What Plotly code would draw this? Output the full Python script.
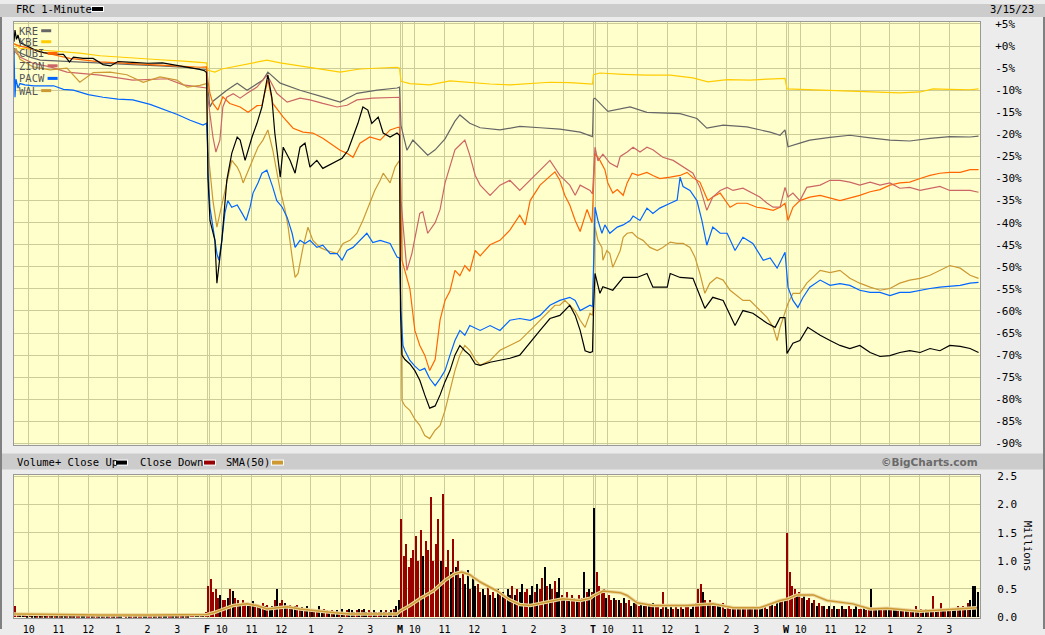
import plotly.graph_objects as go

W, H = 1045, 635

# ---------------- data ----------------
symbols = ["KRE", "KBE", "CUBI", "ZION", "PACW", "WAL"]
hour_labels = ["10", "11", "12", "1", "2", "3"]
day_labels = ["F", "M", "T", "W"]
pct_ticks = list(range(-90, 6, 5))
vol_ticks = [0.0, 0.5, 1.0, 1.5, 2.0, 2.5]

# trading minutes since Thu 9:30 open (390 per session) and % change
frc_t = [0, 2, 5, 8, 12, 22, 32, 45, 60, 80, 100, 112, 120, 140, 160, 180, 195, 210, 240, 270, 300, 320, 340, 360, 375, 385, 389,
         392, 396, 406, 410, 420, 430, 440, 451, 457, 467, 481, 491, 501, 513, 521, 527, 538, 544, 558, 568, 578, 588, 598, 612, 624, 645, 663, 675, 685, 695, 705, 715, 723, 736, 746, 760, 774, 779,
         781, 784, 790, 800, 810, 820, 830, 840, 851, 861, 871, 881, 891, 901, 911, 921, 932, 942, 962, 982, 1002, 1022, 1043, 1063, 1083, 1103, 1123, 1134, 1144, 1154, 1164, 1169,
         1171, 1174, 1184, 1190, 1210, 1231, 1259, 1279, 1291, 1320, 1326, 1346, 1372, 1382, 1396, 1412, 1433, 1457, 1473, 1493, 1522, 1538, 1548, 1558,
         1562, 1574, 1588, 1604, 1608, 1629, 1649, 1669, 1689, 1709, 1730, 1750, 1770, 1790, 1810, 1831, 1851, 1871, 1891, 1912, 1932, 1949]
frc_v = [1.0, 3.6, 1.5, 2.5, 0.8, 0.3, -0.3, -1.0, -1.5, -1.8, -1.9, -3.6, -2.5, -2.8, -2.8, -4.2, -4.5, -3.5, -3.7, -3.9, -3.8, -4.2, -4.5, -5.0, -5.3, -5.6, -6.0,
         -30, -39.5, -44, -53.7, -44, -30.4, -24.3, -20.6, -21.3, -25.9, -20.6, -17.5, -13.8, -6.5, -11.6, -19.7, -29.7, -22.9, -25.9, -28.8, -22.9, -22, -27.4, -25.9, -27.7, -26.5, -25.4, -23.6, -20.6, -17.5, -13.8, -14.5, -17.5, -16.1, -19.7, -20.6, -19.7, -20.2,
         -60, -70, -71, -72, -73.5, -75.7, -79, -82, -81.5, -79, -76, -73.5, -70, -67.8, -69, -70, -72, -72.3, -71.6, -71.2, -70.7, -70, -67, -64.4, -61.7, -61, -58.7, -61, -64.4, -69, -69.4, -69.2,
         -60, -51.5, -56, -54.5, -55.3, -52.4, -52.4, -51.5, -54.6, -54.6, -51.5, -52.4, -52.6, -55.3, -59.4, -56.9, -57.6, -63.3, -59.9, -60.5, -62.8, -63.7, -61.5, -61.5,
         -69.6, -67.3, -66.7, -63.7, -64, -65.5, -66.7, -67.8, -68.5, -67.8, -69.4, -70.3, -70.1, -69.4, -69, -69.4, -68.5, -69, -67.8, -68, -68.5, -69.4]

kre_t = [0, 4, 12, 32, 53, 93, 133, 174, 240, 295, 342, 376, 389,
         392, 396, 402, 430, 451, 471, 503, 513, 538, 578, 624, 659, 693, 734, 774, 779,
         782, 794, 806, 836, 851, 871, 891, 901, 921, 942, 982, 1022, 1063, 1103, 1144, 1164, 1169,
         1171, 1174, 1200, 1245, 1279, 1346, 1380, 1400, 1433, 1481, 1528, 1548, 1558,
         1564, 1588, 1608, 1649, 1689, 1730, 1770, 1810, 1851, 1891, 1932, 1949]
kre_v = [-0.5, -1.0, -1.5, -2.5, -3.2, -3.4, -3.5, -3.8, -4.2, -4.5, -4.8, -5.2, -5.3,
         -10, -13.8, -12.5, -10, -8.4, -10, -7.7, -5.9, -8.4, -10, -11.5, -12.7, -10.7, -10, -9.5, -9.3,
         -18, -23.6, -21.3, -24.7, -23.5, -21, -17, -15.6, -17.5, -18.5, -19, -18.2, -18.5, -18.8, -19.5, -20.3, -20.5,
         -12, -11.8, -14.8, -13.8, -15, -15.3, -16.4, -18.6, -17.9, -18.3, -19.5, -20.2, -19,
         -22.8, -22, -21.3, -20.7, -20.2, -20.8, -21.3, -21.5, -20.9, -20.5, -20.6, -20.4]

kbe_t = [0, 12, 53, 93, 133, 174, 234, 295, 342, 376, 389,
         392, 406, 420, 451, 491, 511, 538, 578, 618, 659, 699, 740, 774, 779,
         782, 800, 840, 881, 921, 962, 1002, 1043, 1083, 1123, 1164, 1169,
         1171, 1184, 1231, 1279, 1326, 1372, 1402, 1441, 1487, 1528, 1558,
         1562, 1588, 1629, 1669, 1709, 1750, 1790, 1831, 1857, 1891, 1932, 1949]
kbe_v = [0.5, -0.5, -0.9, -1.3, -1.6, -2.2, -2.7, -3.1, -3.4, -3.6, -3.8,
         -5.5, -5.9, -5.2, -4.5, -3.6, -3.2, -3.8, -4.5, -5.2, -5.9, -5.2, -4.9, -4.8, -5.0,
         -8.0, -8.5, -8.8, -7.9, -8.3, -8.6, -8.8, -8.5, -8.2, -8.3, -8.6, -8.6,
         -6.5, -6.1, -6.4, -6.6, -6.6, -7.2, -8.1, -7.6, -7.7, -7.4, -7.3,
         -9.7, -9.8, -10.1, -10.2, -10.4, -10.5, -10.6, -10.4, -9.7, -9.8, -9.9, -9.7]

cubi_t = [0, 12, 32, 50, 73, 113, 174, 234, 295, 342, 376, 389,
          392, 396, 402, 412, 422, 436, 457, 473, 491, 501, 513, 523, 544, 564, 584, 604, 624, 659, 673, 685, 699, 719, 740, 760, 776, 779,
          784, 800, 810, 820, 830, 840, 851, 861, 871, 881, 891, 901, 911, 921, 932, 942, 962, 982, 1002, 1022, 1033, 1043, 1063, 1073, 1083, 1093, 1103, 1113, 1123, 1134, 1144, 1158, 1168,
          1174, 1184, 1194, 1200, 1210, 1219, 1231, 1239, 1249, 1261, 1279, 1291, 1305, 1326, 1346, 1360, 1372, 1386, 1396, 1402, 1412, 1427, 1447, 1461, 1481, 1501, 1514, 1534, 1548, 1558,
          1564, 1574, 1588, 1608, 1629, 1669, 1709, 1730, 1750, 1770, 1790, 1810, 1831, 1851, 1871, 1891, 1912, 1932, 1949]
cubi_v = [0.5, 0.0, -0.5, -1.3, -1.8, -2.8, -3.6, -3.9, -4.3, -4.6, -4.8, -4.7,
          -8, -10.7, -13, -14.5, -11.5, -13, -13.8, -15, -13.5, -13.4, -7.7, -13, -16.1, -18.6, -19.5, -19.7, -20.9, -23.6, -24.3, -25.2, -22, -20.6, -21.3, -19, -18.4, -18.4,
          -48.5, -55, -64.4, -67.8, -70, -73.5, -71, -62, -57.6, -55.5, -50.8, -52, -49.7, -51, -46.3, -47.5, -45, -44, -41.7, -38.3, -40.5, -35, -31.5, -30.5, -29.3, -28.5, -30.4, -33.8, -36, -39.5, -42, -37, -40,
          -24.3, -25.9, -28, -31, -33.3, -32.5, -33.8, -31, -28.8, -29.3, -28.6, -29.3, -30, -29.7, -29.3, -28.6, -29.8, -30.8, -33.3, -35, -34.2, -33.3, -36.5, -35.6, -35.6, -36.5, -36.7, -37.2, -36.5, -35.6,
          -39.5, -36.5, -35, -34.2, -33.8, -35, -33.8, -33, -32.5, -31.5, -31, -30.8, -30, -29.3, -28.8, -28.6, -28.6, -28, -28]

zion_t = [0, 12, 38, 73, 107, 174, 240, 309, 342, 376, 389,
          392, 396, 402, 408, 416, 422, 430, 443, 457, 471, 491, 511, 517, 531, 552, 578, 598, 624, 653, 673, 693, 725, 760, 779,
          782, 794, 804, 820, 826, 836, 851, 861, 871, 881, 891, 901, 911, 921, 932, 942, 962, 982, 1002, 1022, 1043, 1063, 1083, 1103, 1123, 1134, 1144, 1164, 1169,
          1174, 1180, 1190, 1204, 1219, 1225, 1239, 1251, 1265, 1279, 1291, 1311, 1332, 1352, 1372, 1386, 1400, 1412, 1427, 1441, 1453, 1473, 1493, 1507, 1522, 1534, 1548, 1558,
          1564, 1574, 1588, 1602, 1629, 1649, 1669, 1689, 1709, 1730, 1750, 1770, 1790, 1810, 1831, 1851, 1871, 1891, 1912, 1932, 1949]
zion_v = [-1, -2.5, -3.9, -4.7, -5.9, -6.6, -7.7, -7.4, -8.8, -9.3, -9.5,
          -12, -15.2, -20.6, -24, -21.3, -13.8, -11.6, -10.8, -11.8, -10.7, -9.3, -6.6, -7.7, -10.7, -12.7, -11.8, -12.2, -13, -13.8, -13.4, -12.2, -11.8, -11.6, -11.6,
          -35, -50.8, -47, -37.9, -37.5, -42.4, -40, -37, -31, -27, -23.5, -22.4, -21.3, -24.7, -29.3, -31.5, -33.8, -31.5, -30.4, -32.7, -30.4, -28, -25.9, -29.3, -31.5, -33.8, -31.5, -32.7, -33.5,
          -22.9, -26, -24.5, -26.5, -27.4, -25, -24, -22.9, -24, -22.9, -23.5, -25.2, -25.9, -27.4, -28.8, -32, -37.2, -34.2, -32.7, -32, -32.7, -32.2, -33.3, -34.2, -35.6, -36.5, -36.5, -32,
          -34.2, -33.3, -35, -32, -31.5, -30.4, -30.4, -30.8, -31.5, -30.8, -31.5, -31, -32.2, -32, -32.7, -32.2, -31.8, -32.7, -32.7, -32.7, -33.1]

pacw_t = [0, 2, 4, 8, 12, 22, 40, 60, 80, 100, 120, 150, 180, 210, 240, 275, 300, 330, 356, 382, 389,
          391, 392, 396, 402, 410, 414, 420, 426, 432, 440, 451, 461, 469, 477, 483, 493, 501, 511, 517, 523, 531, 542, 552, 562, 568, 578, 588, 598, 612, 624, 639, 653, 663, 673, 685, 699, 713, 725, 740, 760, 774, 779,
          782, 786, 790, 800, 810, 820, 830, 840, 851, 861, 871, 881, 891, 901, 911, 921, 942, 962, 982, 1002, 1022, 1043, 1063, 1083, 1103, 1123, 1134, 1144, 1164, 1169,
          1174, 1180, 1188, 1194, 1204, 1219, 1231, 1245, 1251, 1265, 1279, 1291, 1305, 1326, 1340, 1346, 1352, 1366, 1380, 1390, 1400, 1412, 1427, 1441, 1457, 1473, 1493, 1514, 1528, 1542, 1552, 1558,
          1564, 1574, 1584, 1594, 1608, 1629, 1649, 1669, 1689, 1709, 1730, 1750, 1770, 1790, 1810, 1831, 1851, 1871, 1891, 1912, 1932, 1949]
pacw_v = [-1, -11.6, -7.5, -9.5, -8.5, -8.8, -9.0, -9.0, -9.0, -9.8, -10.0, -11.0, -11.6, -12.0, -12.2, -13.2, -14.2, -15.5, -16.8, -17.9, -17.5,
          -22, -28.8, -36.5, -41, -47, -48.5, -44, -37.9, -35, -36.5, -36, -37.9, -39.5, -36.5, -33.3, -31, -28.8, -28.1, -30, -32, -35, -36.5, -38.8, -42.4, -45.6, -44, -44.7, -44, -45.6, -45.1, -47, -47, -48.5, -46.3, -45.6, -44, -42.4, -44.5, -44, -44.7, -47.8, -48,
          -60, -67.8, -69, -71.2, -72.5, -73.5, -73, -75.3, -76.9, -75.3, -73.5, -70, -66.7, -64.4, -65.5, -63.3, -64.4, -63.3, -64.4, -62.1, -61.7, -62.1, -61, -58.7, -57.6, -56.9, -57.6, -59.9, -58.7, -59,
          -36.5, -39.5, -42.4, -40.5, -42.4, -41, -40.5, -39.5, -38.5, -39.5, -36.7, -37.9, -36.7, -35.6, -34.9, -29.7, -31.8, -32.7, -35, -39.5, -45.1, -41, -42.4, -42.4, -46.3, -43.3, -44.7, -48.5, -48, -50.3, -48, -46.7,
          -54.6, -57.6, -59.2, -57, -54.6, -53, -54.2, -53.8, -54.2, -55.3, -55.8, -55.8, -56.5, -55.8, -55.8, -55.3, -54.9, -54.6, -54.4, -54.2, -53.7, -53.5]

wal_t = [0, 4, 12, 38, 73, 107, 133, 160, 194, 228, 261, 295, 329, 350, 376, 389,
         392, 396, 402, 410, 416, 422, 430, 440, 451, 457, 463, 471, 483, 493, 503, 513, 523, 531, 538, 548, 554, 562, 568, 574, 584, 594, 604, 618, 632, 653, 665, 679, 693, 705, 719, 729, 740, 746, 760, 770, 779,
         784, 790, 800, 810, 820, 830, 840, 851, 861, 871, 881, 891, 901, 911, 921, 932, 942, 962, 982, 1002, 1022, 1043, 1063, 1073, 1093, 1103, 1113, 1123, 1134, 1144, 1154, 1164, 1169,
         1174, 1180, 1188, 1190, 1198, 1204, 1210, 1219, 1225, 1231, 1239, 1249, 1259, 1271, 1285, 1300, 1311, 1326, 1340, 1352, 1366, 1376, 1386, 1396, 1406, 1420, 1433, 1447, 1461, 1473, 1487, 1507, 1522, 1534, 1542, 1548, 1558,
         1564, 1574, 1588, 1602, 1618, 1629, 1649, 1669, 1689, 1709, 1730, 1750, 1770, 1790, 1810, 1831, 1851, 1871, 1891, 1912, 1932, 1949]
wal_v = [-2, -0.5, -3, -4.7, -5.4, -5.0, -8.2, -6, -5.9, -6.5, -8.2, -7, -7.7, -9.3, -8.9, -8.5,
         -23.6, -28.8, -35, -41, -38, -35, -30.4, -25.9, -27.4, -28.8, -31, -28.8, -25.9, -22.9, -21.3, -19, -23.6, -28.8, -32.7, -37.2, -41, -47.8, -52.4, -51.5, -45.6, -41, -44, -45.6, -46.3, -47, -44.7, -44, -42.4, -39.5, -35.6, -32.7, -30.4, -28.8, -31, -27.4, -25.9,
         -80.3, -81.5, -82.5, -84.5, -85.9, -88.2, -88.9, -87, -85.9, -82.5, -78, -73.5, -70, -67.8, -68.9, -71, -72.3, -71.2, -68.9, -67.8, -66.7, -64.4, -62.1, -61, -58.7, -58.7, -57.6, -58.7, -60, -62.1, -63.7, -60.5, -61,
         -41, -44, -45.6, -48.5, -46.3, -47, -50.1, -47.8, -46.3, -43.3, -42.4, -42.2, -43.3, -44, -45.6, -46.3, -45.6, -44.4, -44.7, -44.7, -45.6, -47.8, -51.5, -56, -53.7, -52.4, -53, -55.3, -56.5, -57.6, -57.6, -59.9, -61.5, -63.7, -66.7, -63.7, -60.5,
         -58.3, -56, -56, -53.7, -51.9, -50.8, -51.3, -50.8, -52.6, -53.7, -54.6, -55.3, -54.9, -53.7, -53, -52.6, -51.9, -50.8, -49.7, -50.3, -51.9, -52.6]

# FRC volume (millions), one value per 5-minute slot, 78 slots per session
vol_thu = [0.20, 0.06, 0.05, 0.04, 0.04, 0.03, 0.04, 0.03, 0.03, 0.03, 0.03, 0.02, 0.03,
           0.03, 0.02, 0.03, 0.02, 0.02, 0.03, 0.02, 0.02, 0.02, 0.03, 0.02, 0.02, 0.02,
           0.02, 0.03, 0.02, 0.02, 0.02, 0.02, 0.02, 0.02, 0.03, 0.02, 0.02, 0.02, 0.02,
           0.02, 0.02, 0.02, 0.02, 0.02, 0.04, 0.02, 0.02, 0.02, 0.02, 0.02, 0.02, 0.02,
           0.02, 0.02, 0.02, 0.02, 0.02, 0.02, 0.02, 0.02, 0.02, 0.02, 0.02, 0.02, 0.02,
           0.03, 0.02, 0.03, 0.03, 0.03, 0.03, 0.04, 0.04, 0.05, 0.06, 0.06, 0.08, 0.10]
vol_fri = [0.55, 0.68, 0.45, 0.5, 0.35, 0.4, 0.3, 0.3, 0.35, 0.5, 0.47, 0.35, 0.3,
           0.25, 0.3, 0.22, 0.2, 0.25, 0.28, 0.22, 0.2, 0.18, 0.25, 0.2, 0.22, 0.18,
           0.2, 0.3, 0.5, 0.25, 0.3, 0.25, 0.2, 0.22, 0.18, 0.2, 0.22, 0.15, 0.18,
           0.15, 0.2, 0.15, 0.13, 0.15, 0.12, 0.2, 0.12, 0.14, 0.12, 0.1, 0.12, 0.1,
           0.12, 0.1, 0.14, 0.1, 0.12, 0.15, 0.12, 0.1, 0.12, 0.15, 0.12, 0.15, 0.1,
           0.12, 0.1, 0.12, 0.1, 0.1, 0.12, 0.1, 0.12, 0.1, 0.12, 0.15, 0.2, 0.3]
vol_mon = [1.75, 1.1, 1.3, 0.9, 1.05, 1.2, 1.45, 1.0, 1.55, 1.1, 1.35, 1.2, 2.15,
           1.0, 1.3, 1.75, 1.0, 2.2, 0.9, 1.2, 0.8, 1.4, 0.9, 1.0, 0.7, 0.8,
           0.6, 0.85, 0.5, 0.7, 0.55, 0.6, 0.45, 0.5, 0.4, 0.55, 0.4, 0.45, 0.35,
           0.5, 0.4, 0.45, 0.35, 0.5, 0.4, 0.55, 0.4, 0.5, 0.45, 0.6, 0.45, 0.5,
           0.4, 0.55, 0.45, 0.6, 0.5, 0.7, 0.9, 0.55, 0.6, 0.5, 0.65, 0.45, 0.7,
           0.4, 0.35, 0.45, 0.35, 0.4, 0.35, 0.3, 0.4, 0.35, 0.8, 0.45, 0.5, 0.45]
vol_tue = [1.95, 0.8, 0.55, 0.45, 0.5, 0.35, 0.4, 0.3, 0.35, 0.3, 0.3, 0.25, 0.35,
           0.25, 0.3, 0.2, 0.25, 0.3, 0.2, 0.25, 0.2, 0.25, 0.2, 0.2, 0.25, 0.2,
           0.2, 0.15, 0.45, 0.2, 0.15, 0.2, 0.15, 0.2, 0.15, 0.2, 0.15, 0.2, 0.2,
           0.15, 0.2, 0.25, 0.5, 0.6, 0.45, 0.3, 0.25, 0.3, 0.2, 0.25, 0.2, 0.2,
           0.25, 0.15, 0.2, 0.15, 0.2, 0.15, 0.2, 0.2, 0.15, 0.2, 0.15, 0.2, 0.2,
           0.15, 0.2, 0.15, 0.2, 0.2, 0.15, 0.2, 0.25, 0.2, 0.25, 0.3, 0.3, 0.35]
vol_wed = [1.5, 0.8, 0.55, 0.5, 0.4, 0.45, 0.35, 0.4, 0.3, 0.35, 0.25, 0.3, 0.2,
           0.25, 0.2, 0.2, 0.15, 0.2, 0.15, 0.2, 0.15, 0.15, 0.2, 0.15, 0.15, 0.2,
           0.15, 0.15, 0.2, 0.15, 0.15, 0.2, 0.12, 0.15, 0.5, 0.15, 0.12, 0.15, 0.12,
           0.12, 0.15, 0.12, 0.15, 0.12, 0.12, 0.15, 0.12, 0.12, 0.15, 0.12, 0.12, 0.15,
           0.2, 0.12, 0.15, 0.12, 0.15, 0.12, 0.15, 0.38, 0.12, 0.15, 0.25, 0.15, 0.12,
           0.15, 0.12, 0.15, 0.15, 0.2, 0.15, 0.2, 0.15, 0.25, 0.3, 0.55, 0.55, 0.45]
# u = close up, d = close down
dir_thu = "dduudu" "duudud" "uddudu" "duudud" "udduud" "dudduu" "duddud" "uuddud" "dudduu" "ddudud" "uudduu" "ddudud" "duudud"
dir_fri = "dddddu" "ddudud" "duddud" "uddudu" "duudud" "dudduu" "ddudud" "udduud" "duduud" "udduud" "duduud" "dudduu" "duuduu"
dir_mon = "dddddd" "dddudd" "ddddud" "ddudud" "uduudu" "udduud" "uduudu" "duudud" "uudduu" "duddud" "udduud" "ududdu" "ddudud"
dir_tue = "uddddu" "ddudud" "udduud" "duudud" "uddudu" "duddud" "udduud" "ddudud" "uduudu" "ddudud" "uddudu" "duudud" "uduudu"
dir_wed = "ddddud" "duddud" "uddudu" "duudud" "udduud" "duddud" "uudduu" "duudud" "uddudu" "duudud" "uddudu" "duudud" "uduuuu"

sma_t = [0, 53, 174, 275, 376,
         390, 406, 426, 443, 471, 491, 511, 531, 552, 578, 612, 649, 679, 729, 774,
         780, 800, 820, 847, 871, 891, 905, 921, 942, 962, 976, 1002, 1022, 1043, 1073, 1109, 1144, 1164,
         1170, 1190, 1225, 1239, 1259, 1291, 1360, 1386, 1412, 1453, 1507, 1548,
         1564, 1582, 1615, 1643, 1695, 1730, 1764, 1831, 1897, 1946]
sma_v = [0.05, 0.04, 0.03, 0.03, 0.03,
         0.04, 0.08, 0.15, 0.2, 0.23, 0.2, 0.14, 0.16, 0.18, 0.14, 0.1, 0.07, 0.05, 0.05, 0.05,
         0.1, 0.2, 0.32, 0.46, 0.65, 0.77, 0.8, 0.75, 0.62, 0.52, 0.46, 0.3, 0.22, 0.2, 0.25, 0.32, 0.29, 0.33,
         0.37, 0.46, 0.43, 0.38, 0.25, 0.2, 0.2, 0.22, 0.23, 0.16, 0.16, 0.29,
         0.32, 0.39, 0.39, 0.29, 0.23, 0.14, 0.15, 0.1, 0.14, 0.16]

# ---------------- styling ----------------
MONO = "DejaVu Sans Mono"
GRID = "#cccc99"
PLOT_BG = "#ffffcc"
colors = {"KRE": "#666666", "KBE": "#ffcc00", "CUBI": "#ff6600", "ZION": "#cc6666",
          "PACW": "#0066ff", "WAL": "#cc9933", "FRC": "#000000"}

# layout positions are given in the reference picture's pixels and mapped onto the page
# (the captured page shows page pixel p at about 4 + 0.983 p down)


def page_x(x):
    return x


def page_y(y):
    return (y - 4.0) / 0.983


def px(x):
    return min(max(page_x(x) / W, 0.0), 1.0)


def py(y):
    return min(max(1 - page_y(y) / H, 0.0), 1.0)


X0, X1 = 14, 980          # plot left/right (reference pixels)
MAIN_TOP, MAIN_BOT = 22, 444
VOL_TOP, VOL_BOT = 474, 617

fig = go.Figure()

series = [("KRE", kre_t, kre_v), ("KBE", kbe_t, kbe_v), ("CUBI", cubi_t, cubi_v),
          ("ZION", zion_t, zion_v), ("WAL", wal_t, wal_v), ("PACW", pacw_t, pacw_v),
          ("FRC", frc_t, frc_v)]
for name, t, v in series:
    fig.add_trace(go.Scatter(x=t, y=v, mode="lines", name=name,
                             line=dict(color=colors[name], width=1.2),
                             xaxis="x", yaxis="y", showlegend=False, hoverinfo="skip"))

# volume bars
vx, vy, vc = [], [], []
for d, (vals, dirs) in enumerate([(vol_thu, dir_thu), (vol_fri, dir_fri), (vol_mon, dir_mon),
                                   (vol_tue, dir_tue), (vol_wed, dir_wed)]):
    for i, val in enumerate(vals):
        vx.append(d * 390 + 5 * i + 2.5)
        vy.append(val)
        vc.append("#000000" if dirs[i] == "u" else "#990000")
fig.add_trace(go.Bar(x=vx, y=vy, marker=dict(color=vc, line=dict(width=0)), width=2.6,
                     xaxis="x2", yaxis="y2", showlegend=False, hoverinfo="skip"))
fig.add_trace(go.Scatter(x=sma_t, y=sma_v, mode="lines", line=dict(color="#ecd9a0", width=3.5),
                         xaxis="x2", yaxis="y2", showlegend=False, hoverinfo="skip"))
fig.add_trace(go.Scatter(x=sma_t, y=sma_v, mode="lines", line=dict(color="#cc9933", width=1.5),
                         xaxis="x2", yaxis="y2", showlegend=False, hoverinfo="skip"))

# axis ticks
hour_offsets = [30, 90, 150, 210, 270, 330]
tick_vals, tick_text = [], []
for d in range(5):
    if d > 0:
        tick_vals.append(d * 390)
        tick_text.append("<b>" + day_labels[d - 1] + "</b>")
    for off, lab in zip(hour_offsets, hour_labels):
        tick_vals.append(d * 390 + off)
        tick_text.append(lab)

x_range = [0, 1952]
xdom = [px(X0), px(X1)]
main_range = [(46 - MAIN_BOT) / 4.41, (46 - MAIN_TOP) / 4.41]
vol_range = [(616 - VOL_BOT) / 56.0, (616 - VOL_TOP) / 56.0]

pct_text = [("+" if v >= 0 else "") + str(v) + "%" for v in pct_ticks]

fig.update_layout(
    width=W, height=H, margin=dict(l=0, r=0, t=0, b=0),
    paper_bgcolor="#ececec", plot_bgcolor=PLOT_BG,
    bargap=0,
    xaxis=dict(domain=xdom, range=x_range, anchor="y", tickvals=tick_vals, showticklabels=False,
               showgrid=True, gridcolor=GRID, gridwidth=1, zeroline=False, ticks="",
               showline=True, linecolor="#999999", mirror=True, fixedrange=True),
    yaxis=dict(domain=[py(MAIN_BOT), py(MAIN_TOP)], range=main_range, anchor="x", side="right",
               tickvals=pct_ticks, ticktext=pct_text, showgrid=True, gridcolor=GRID, zeroline=False,
               ticks="", ticklabelstandoff=12, tickfont=dict(family=MONO, size=11, color="#000000"),
               showline=True, linecolor="#999999", mirror=True),
    xaxis2=dict(domain=xdom, range=x_range, anchor="y2", tickvals=tick_vals, ticktext=tick_text,
                showgrid=True, gridcolor=GRID, zeroline=False, ticks="", ticklabelstandoff=2,
                tickfont=dict(family=MONO, size=10, color="#000000"),
                showline=True, linecolor="#999999", mirror=True),
    yaxis2=dict(domain=[py(VOL_BOT), py(VOL_TOP)], range=vol_range, anchor="x2", side="right",
                tickvals=vol_ticks, ticktext=["%.1f" % v for v in vol_ticks], showgrid=True,
                gridcolor=GRID, zeroline=False, ticks="", ticklabelstandoff=14,
                tickfont=dict(family=MONO, size=11, color="#000000"),
                showline=True, linecolor="#999999", mirror=True),
)

shapes = []
# header and separator bars
shapes.append(dict(type="rect", xref="paper", yref="paper", x0=0, x1=1, y0=py(17), y1=1,
                   fillcolor="#cccccc", line=dict(width=0), layer="below"))
shapes.append(dict(type="rect", xref="paper", yref="paper", x0=px(2), x1=px(W - 2), y0=py(469), y1=py(453),
                   fillcolor="#cccccc", line=dict(width=0), layer="below"))
# outer frame: left, right, bottom below header
for (xa, xb, ya, yb) in [(0, 2, 17, H), (W - 2, W, 17, H), (0, W, H - 2, H)]:
    shapes.append(dict(type="rect", xref="paper", yref="paper", x0=px(xa), x1=px(xb), y0=py(yb), y1=py(ya),
                       fillcolor="#808080", line=dict(width=0)))
# second line at each session boundary
for d in range(1, 5):
    for ydom in ("y domain", "y2 domain"):
        shapes.append(dict(type="line", xref="x", yref=ydom, x0=d * 390 + 5, x1=d * 390 + 5, y0=0, y1=1,
                           line=dict(color=GRID, width=1), layer="below"))


def swatch(x, y, w, h, color, border=True):
    if border:
        shapes.append(dict(type="rect", xref="paper", yref="paper", x0=px(x - 1), x1=px(x + w + 1),
                           y0=py(y + h / 2 + 1), y1=py(y - h / 2 - 1), fillcolor="#ffffff", line=dict(width=0)))
    shapes.append(dict(type="rect", xref="paper", yref="paper", x0=px(x), x1=px(x + w),
                       y0=py(y + h / 2), y1=py(y - h / 2), fillcolor=color, line=dict(width=0)))


annotations = []


def label(x, y, text, anchor="left", size=10, color="#000000", family=MONO):
    annotations.append(dict(x=px(x), y=py(y), xref="paper", yref="paper", text=text, showarrow=False,
                            xanchor=anchor, yanchor="middle", font=dict(family=family, size=size, color=color)))


label(14, 9, "FRC 1-Minute", size=10.5)
swatch(92, 9, 11, 4, "#000000")
label(1036, 9, "3/15/23", anchor="right", size=10.5)

label(15, 461.5, "Volume+ Close Up", size=10.5)
swatch(116, 462, 11, 4, "#000000")
label(138, 461.5, "Close Down", size=10.5)
swatch(204, 462, 11, 4, "#990000")
label(224, 461.5, "SMA(50)", size=10.5)
swatch(272, 462, 11, 4, "#cc9933")
label(980, 461, "<b>©BigCharts.com</b>", anchor="right", size=10.5, color="#6a6a6a", family="DejaVu Sans")

annotations.append(dict(x=px(1028), y=py(545), xref="paper", yref="paper", text="Millions", showarrow=False,
                        textangle=90, xanchor="center", yanchor="middle",
                        font=dict(family=MONO, size=10.5, color="#000000")))

legend_rows = [30.7, 41.7, 53.3, 65.7, 78.3, 90.5]
for sym, yy in zip(symbols, legend_rows):
    label(17, yy, sym, size=10.5, color="#555555")
    swatch(19 + 6.4 * len(sym) + 3, yy, 10, 3, colors[sym], border=False)

fig.update_layout(shapes=shapes, annotations=annotations)
page_fix = ("var gd=document.getElementById('{plot_id}');"
            "gd.style.position='absolute';gd.style.left='0px';gd.style.top='0px';"
            "document.documentElement.style.margin='0px';document.documentElement.style.height='635px';"
            "document.documentElement.style.overflow='hidden';"
            "document.body.style.margin='0px';document.body.style.padding='0px';"
            "document.body.style.overflow='hidden';document.body.style.height='635px';")
fig.write_html("out.html", post_script=page_fix, config={"displayModeBar": False},
               default_width="1045px", default_height="635px")
